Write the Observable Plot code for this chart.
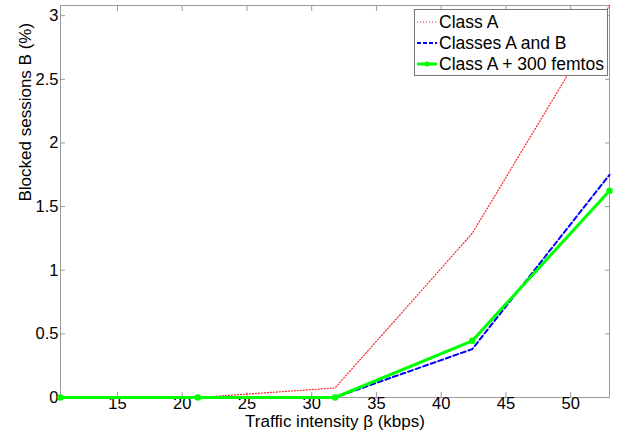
<!DOCTYPE html>
<html>
<head>
<meta charset="utf-8">
<script src="https://cdn.jsdelivr.net/npm/d3@7"></script>
<script src="https://cdn.jsdelivr.net/npm/@observablehq/plot@0.6"></script>
<style>
  body { margin: 0; background: white; }
  #wrap { position: relative; width: 623px; height: 436px; font-family: "Liberation Sans", Arial, sans-serif; }
  #legend { position: absolute; left: 414px; top: 9px; width: 192px; height: 65px; border: 1px solid #777; background: white; }
  .row { position: absolute; left: 2px; height: 20px; display: flex; align-items: center; font-size: 17.5px; color: #000; white-space: nowrap; }
  .row svg { margin-right: 2px; }
</style>
</head>
<body>
<div id="wrap"></div>
<script>
const traffic = [10.6, 21.2, 31.8, 42.4, 53];
const classA = [0, 0, 0.075, 1.29, 3.08];
const classesAB = [0, 0, 0, 0.38, 1.75];
const classAFemtos = [0, 0, 0, 0.445, 1.625];
const xTicks = [15, 20, 25, 30, 35, 40, 45, 50];
const yTicks = [0, 0.5, 1, 1.5, 2, 2.5, 3];
const seriesNames = ["Class A", "Classes A and B", "Class A + 300 femtos"];
const xLabel = "Traffic intensity β (kbps)";
const yLabel = "Blocked sessions B (%)";

const rows = (ys) => traffic.map((x, i) => ({x, y: ys[i]}));
const axisGrey = "#9a9a9a";

const chart = Plot.plot({
  width: 623,
  height: 436,
  marginLeft: 60,
  marginRight: 14,
  marginTop: 5,
  marginBottom: 39,
  style: {fontFamily: "Liberation Sans, Arial, sans-serif", fontSize: "16.5px", background: "white", color: "black"},
  x: {domain: [10.6, 53]},
  y: {domain: [0, 3.08]},
  marks: [
    Plot.frame({stroke: axisGrey}),
    Plot.axisX(xTicks, {anchor: "bottom", tickSize: -5, tickPadding: 5, stroke: axisGrey, fill: "black", fontSize: 16.5, label: null}),
    Plot.axisX(xTicks, {anchor: "top", tickSize: -5, stroke: axisGrey, tickFormat: () => "", label: null}),
    Plot.axisY(yTicks, {anchor: "left", tickSize: -5, tickPadding: 7, stroke: axisGrey, fill: "black", fontSize: 16.5,
      tickFormat: d => String(d), label: null}),
    Plot.axisY(yTicks, {anchor: "right", tickSize: -5, stroke: axisGrey, tickFormat: () => "", label: null}),
    Plot.text([xLabel], {frameAnchor: "bottom", text: d => d, dy: 29.5, fontSize: 17, fill: "black"}),
    Plot.text([yLabel], {frameAnchor: "left", text: d => d, dx: -35, rotate: -90, fontSize: 17, fill: "black"}),
    Plot.line(rows(classA), {x: "x", y: "y", stroke: "#ff2020", strokeWidth: 1.2, strokeDasharray: "1,2"}),
    Plot.line(rows(classesAB), {x: "x", y: "y", stroke: "#0000ff", strokeWidth: 2, strokeDasharray: "5,3"}),
    Plot.line(rows(classAFemtos), {x: "x", y: "y", stroke: "#00ff00", strokeWidth: 3}),
    Plot.dot(rows(classAFemtos), {x: "x", y: "y", r: 2.5, fill: "#00ff00", stroke: "#00ff00"})
  ]
});

const wrap = document.getElementById("wrap");
wrap.appendChild(chart);

const legend = document.createElement("div");
legend.id = "legend";
const samples = [
  '<svg width="20" height="20"><line x1="0" y1="10" x2="20" y2="10" stroke="#ff2020" stroke-width="1.2" stroke-dasharray="1,2"/></svg>',
  '<svg width="20" height="20"><line x1="0" y1="10" x2="20" y2="10" stroke="#0000ff" stroke-width="2" stroke-dasharray="4,2"/></svg>',
  '<svg width="20" height="20"><line x1="0" y1="10" x2="20" y2="10" stroke="#00ff00" stroke-width="3"/><circle cx="10" cy="10" r="2.5" fill="#00ff00"/></svg>'
];
const tops = [2, 23, 44];
seriesNames.forEach((name, i) => {
  const r = document.createElement("div");
  r.className = "row";
  r.style.top = tops[i] + "px";
  r.innerHTML = samples[i] + "<span>" + name + "</span>";
  legend.appendChild(r);
});
wrap.appendChild(legend);
</script>
</body>
</html>
